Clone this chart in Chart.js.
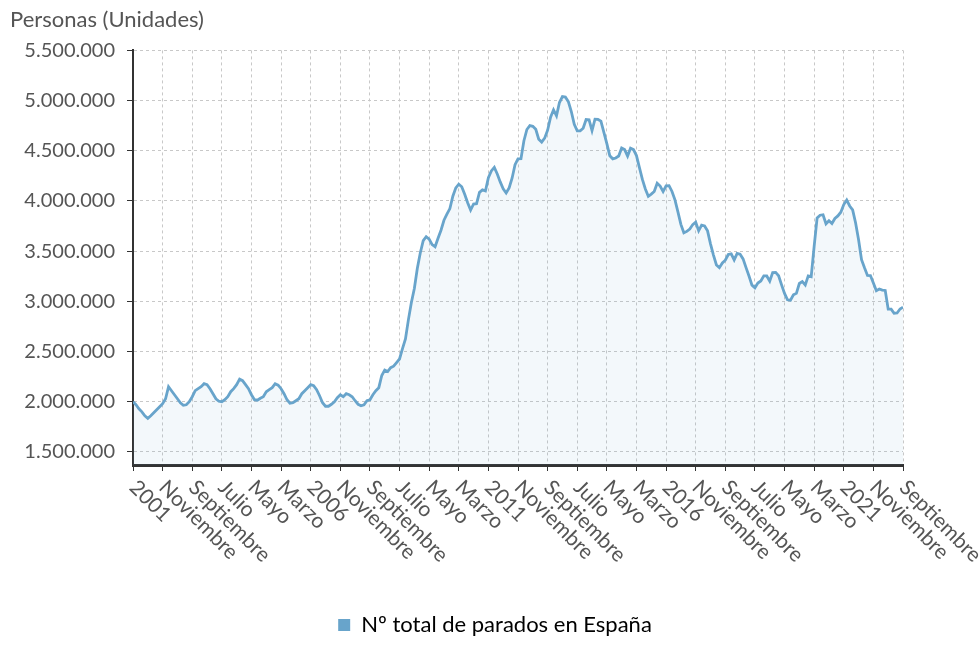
<!DOCTYPE html>
<html>
<head>
<meta charset="utf-8">
<script src="https://cdn.jsdelivr.net/npm/chart.js@4"></script>
<style>
  html, body { margin: 0; padding: 0; background: #fff; }
  #wrap { width: 980px; height: 646px; }
</style>
</head>
<body>
<div id="wrap"><canvas id="grafico"></canvas></div>
<script>
// Paro registrado, miles de personas (enero 2001 - septiembre 2022)
const anioInicio = 2001;
const meses = ["Enero", "Febrero", "Marzo", "Abril", "Mayo", "Junio", "Julio", "Agosto", "Septiembre", "Octubre", "Noviembre", "Diciembre"];

const p2001 = [2000, 1970, 1930, 1900, 1860, 1835, 1860, 1890, 1920, 1950, 1980, 2030];
const p2002 = [2150, 2110, 2070, 2030, 1990, 1965, 1970, 2000, 2050, 2110, 2130, 2150];
const p2003 = [2180, 2170, 2130, 2080, 2030, 2005, 2000, 2020, 2050, 2100, 2130, 2170];
const p2004 = [2225, 2210, 2170, 2130, 2070, 2020, 2015, 2035, 2050, 2100, 2120, 2140];
const p2005 = [2180, 2165, 2130, 2080, 2020, 1985, 1990, 2010, 2030, 2080, 2110, 2140];
const p2006 = [2170, 2160, 2120, 2060, 1990, 1955, 1955, 1975, 2000, 2040, 2070, 2050];
const p2007 = [2080, 2070, 2050, 2010, 1975, 1960, 1970, 2010, 2020, 2070, 2110, 2140];
const p2008 = [2262, 2315, 2301, 2339, 2354, 2390, 2426, 2530, 2625, 2818, 2989, 3129];
const p2009 = [3328, 3482, 3605, 3644, 3620, 3565, 3544, 3629, 3709, 3808, 3869, 3924];
const p2010 = [4048, 4131, 4167, 4142, 4066, 3982, 3909, 3970, 3973, 4086, 4110, 4100];
const p2011 = [4231, 4299, 4334, 4269, 4190, 4122, 4080, 4131, 4227, 4361, 4420, 4422];
const p2012 = [4600, 4712, 4751, 4744, 4714, 4615, 4587, 4626, 4705, 4834, 4908, 4849];
const p2013 = [4981, 5040, 5035, 4989, 4891, 4764, 4699, 4699, 4724, 4811, 4809, 4701];
const p2014 = [4814, 4812, 4796, 4684, 4572, 4450, 4420, 4428, 4448, 4527, 4512, 4448];
const p2015 = [4526, 4512, 4452, 4333, 4215, 4120, 4046, 4068, 4094, 4176, 4149, 4094];
const p2016 = [4151, 4153, 4095, 4011, 3891, 3767, 3683, 3697, 3720, 3765, 3790, 3703];
const p2017 = [3760, 3751, 3702, 3573, 3461, 3363, 3336, 3382, 3410, 3467, 3474, 3413];
const p2018 = [3477, 3470, 3423, 3336, 3252, 3162, 3135, 3182, 3203, 3254, 3253, 3202];
const p2019 = [3286, 3289, 3255, 3164, 3079, 3016, 3011, 3066, 3080, 3178, 3198, 3164];
const p2020 = [3254, 3246, 3548, 3831, 3858, 3863, 3773, 3803, 3776, 3826, 3851, 3888];
const p2021 = [3964, 4009, 3950, 3911, 3781, 3614, 3416, 3334, 3258, 3257, 3183, 3106];
const p2022 = [3123, 3112, 3109, 2923, 2923, 2881, 2884, 2924, 2942];

const ticksY = [1500000, 2000000, 2500000, 3000000, 3500000, 4000000, 4500000, 5000000, 5500000];
const pasoX = 10; // una etiqueta cada 10 meses

const miles = [p2001, p2002, p2003, p2004, p2005, p2006, p2007, p2008, p2009, p2010, p2011,
  p2012, p2013, p2014, p2015, p2016, p2017, p2018, p2019, p2020, p2021, p2022].flat();
const puntos = miles.map((v, i) => ({ x: i, y: v * 1000 }));

const colorLinea = "rgb(104,164,203)";
const fuente = "Lato, 'Noto Sans', sans-serif";

function formatoMiles(n) {
  return String(n).replace(/\B(?=(\d{3})+(?!\d))/g, ".");
}

function etiquetaMes(i) {
  const mes = i % 12;
  if (mes === 0) return String(anioInicio + i / 12);
  return meses[mes];
}

// etiquetas del eje x giradas 45 grados hacia abajo a la derecha
const etiquetasX = {
  id: "etiquetasX",
  afterDraw(chart) {
    const x = chart.scales.x;
    const ctx = chart.ctx;
    ctx.save();
    ctx.font = "21px " + fuente;
    ctx.fillStyle = "#555";
    ctx.textAlign = "left";
    ctx.textBaseline = "middle";
    x.ticks.forEach(t => {
      const px = x.getPixelForValue(t.value);
      ctx.save();
      ctx.translate(px, x.top + 19);
      ctx.rotate(Math.PI / 4);
      ctx.fillText(etiquetaMes(t.value), 0, 0);
      ctx.restore();
    });
    ctx.restore();
  }
};

new Chart(document.getElementById("grafico"), {
  type: "line",
  data: {
    datasets: [{
      label: "Nº total de parados en España",
      data: puntos,
      borderColor: colorLinea,
      backgroundColor: colorLinea,
      borderWidth: 2.8,
      pointRadius: 0,
      tension: 0,
      fill: { target: "start", above: "rgba(106,166,204,0.08)", below: "rgba(106,166,204,0.08)" }
    }]
  },
  options: {
    responsive: true,
    maintainAspectRatio: false,
    animation: false,
    layout: { padding: { left: 10, right: 0, top: 0, bottom: 0 } },
    scales: {
      x: {
        type: "linear",
        min: 0,
        max: puntos.length - 1,
        afterBuildTicks: scale => {
          const t = [];
          for (let i = 0; i < puntos.length; i += pasoX) t.push({ value: i });
          scale.ticks = t;
        },
        afterFit: scale => { scale.height = 145; },
        ticks: { display: false },
        grid: { color: "#c8c8c8", tickColor: "#333", tickLength: 6, tickWidth: 1, tickBorderDash: [] },
        border: { display: true, color: "#333", width: 3, dash: [3, 3] }
      },
      y: {
        min: 1370000,
        max: 5500000,
        afterBuildTicks: scale => { scale.ticks = ticksY.map(v => ({ value: v })); },
        afterFit: scale => { scale.width = 123; },
        ticks: {
          color: "#555",
          padding: 12,
          font: { family: fuente, size: 20 },
          callback: v => formatoMiles(v)
        },
        grid: { color: "#c8c8c8", tickColor: "#333", tickLength: 6, tickWidth: 1, tickBorderDash: [] },
        border: { display: true, color: "#333", width: 2, dash: [3, 3] }
      },
      // margen derecho para que quepa la última etiqueta
      margenDer: {
        type: "linear",
        position: "right",
        min: 0,
        max: 1,
        afterFit: scale => { scale.width = 77; },
        ticks: { display: false },
        grid: { display: false, drawTicks: false },
        border: { display: false }
      }
    },
    plugins: {
      title: {
        display: true,
        text: "Personas (Unidades)",
        align: "start",
        color: "#555",
        font: { family: fuente, size: 22, weight: "normal" },
        padding: { top: 7, bottom: 17 }
      },
      legend: {
        position: "bottom",
        labels: {
          color: "#444",
          boxWidth: 12,
          boxHeight: 12,
          padding: 4,
          font: { family: fuente, size: 22 },
          generateLabels: chart => chart.data.datasets.map((d, i) => ({
            text: d.label, fillStyle: colorLinea, strokeStyle: colorLinea, lineWidth: 0, datasetIndex: i
          }))
        }
      },
      tooltip: { enabled: false }
    }
  },
  plugins: [etiquetasX]
});
</script>
</body>
</html>
